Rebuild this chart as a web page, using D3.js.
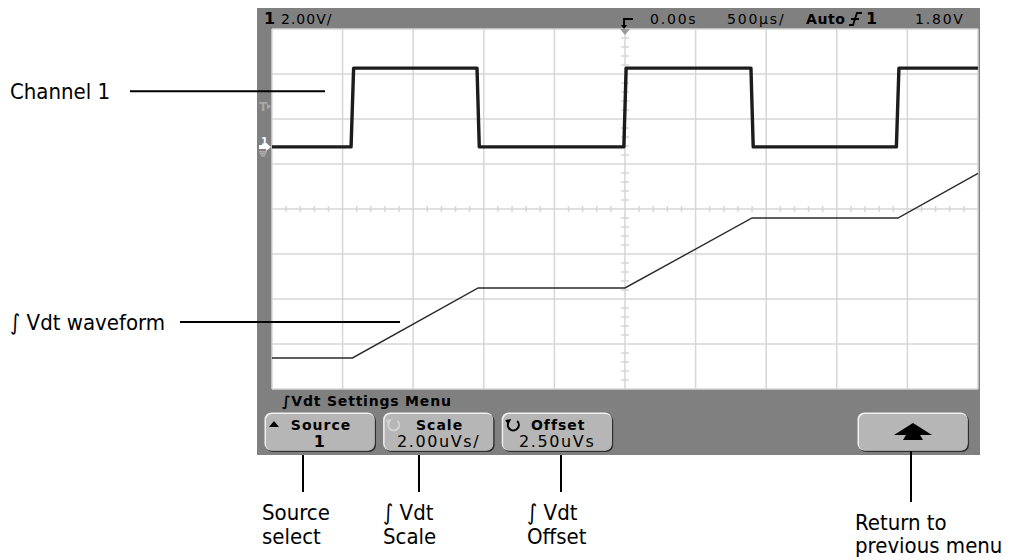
<!DOCTYPE html>
<html>
<head>
<meta charset="utf-8">
<script src="https://cdn.jsdelivr.net/npm/d3@7"></script>
<style>
  body { margin: 0; background: #fff; }
  .scope { font-family: "DejaVu Sans", sans-serif; }
  .note { font-family: "Liberation Sans Narrow", "DejaVu Sans Condensed", sans-serif; font-size: 22px; fill: #000; }
</style>
</head>
<body>
<div id="chart"></div>
<script>
// time axis (µs), 500 µs/div, centred on trigger
const timeDomain = [-2500, 2500];
const timeDivs = d3.range(-2500, 2501, 500);
const voltDivs = d3.range(-4, 5, 1);          // 8 vertical divisions around centre

// channel 1 (V), 2.00 V/div, ground reference 0 V
const ch1Center = -2.76;
const ch1Times = [-2500, -1940, -1922, -1048, -1032, -8, 8, 892, 908, 1922, 1940, 2500];
const ch1Volts = [0, 0, 3.5, 3.5, 0, 0, 3.5, 3.5, 0, 0, 3.5, 3.5];
const triggerLevel = 1.8;

// integral (uVs), 2.00 uVs/div, offset 2.50 uVs
const intScale = 2.0;
const intOffset = 2.5;
const intTimes = [-2500, -1930, -1040, 0, 900, 1933, 2500];
const intValues = [-4.12, -4.12, -1.01, -1.01, 2.10, 2.10, 4.08];

// status line
const statusLeft = ["1", "2.00V/"];
const statusRight = ["0.00s", "500µs/", "Auto", "1", "1.80V"];

// softkeys
const menuTitle = "∫Vdt Settings Menu";
const softkeyLabels = ["Source", "Scale", "Offset", "", "", ""];
const softkeyValues = ["1", "2.00uVs/", "2.50uVs", "", "", ""];

// callouts
const sideNotes = ["Channel 1", "∫ Vdt waveform"];
const bottomNotes = [["Source", "select"], ["∫ Vdt", "Scale"], ["∫ Vdt", "Offset"], ["Return to", "previous menu"]];

const W = 1022, H = 560;
const frame = { left: 257, top: 8, right: 980, bottom: 455 };
const grid = { left: 272, top: 29, right: 978, bottom: 389 };

const svg = d3.select("#chart").append("svg")
    .attr("width", W)
    .attr("height", H);

const x = d3.scaleLinear().domain(timeDomain).range([grid.left, grid.right]);
const yDiv = d3.scaleLinear().domain([-4, 4]).range([grid.bottom, grid.top]);
const yCh1 = d3.scaleLinear().domain([ch1Center - 8, ch1Center + 8]).range([grid.bottom, grid.top]);
const yInt = d3.scaleLinear().domain([intOffset - 4 * intScale, intOffset + 4 * intScale]).range([grid.bottom, grid.top]);

// scope frame
let scope = svg.append("g").attr("class", "scope");
scope.append("rect")
    .attr("x", frame.left).attr("y", frame.top)
    .attr("width", frame.right - frame.left).attr("height", frame.bottom - frame.top)
    .attr("fill", "#808080");
scope.append("rect")
    .attr("x", grid.left).attr("y", grid.top)
    .attr("width", grid.right - grid.left).attr("height", grid.bottom - grid.top)
    .attr("fill", "#fff");

// graticule
let g = scope.append("g").attr("class", "graticule")
    .attr("stroke", "#d6d6d6").attr("stroke-width", 1.5);
g.selectAll(".vline").data(timeDivs).enter().append("line")
    .attr("x1", d => x(d)).attr("x2", d => x(d))
    .attr("y1", grid.top).attr("y2", grid.bottom);
g.selectAll(".hline").data(voltDivs).enter().append("line")
    .attr("x1", grid.left).attr("x2", grid.right)
    .attr("y1", d => yDiv(d)).attr("y2", d => yDiv(d));

// minor ticks on the centre lines
let xMinor = d3.range(-2500, 2501, 100).filter(d => d % 500 !== 0);
g.selectAll(".xtick").data(xMinor).enter().append("line")
    .attr("x1", d => x(d)).attr("x2", d => x(d))
    .attr("y1", yDiv(0) - 3).attr("y2", yDiv(0) + 3);
let yMinor = d3.range(-4, 4.01, 0.2).filter(d => Math.abs(d - Math.round(d)) > 0.01);
g.selectAll(".ytick").data(yMinor).enter().append("line")
    .attr("x1", x(0) - 4).attr("x2", x(0) + 4)
    .attr("y1", d => yDiv(d)).attr("y2", d => yDiv(d));

// trigger position marker on top of graticule
scope.append("path")
    .attr("d", `M${x(0) - 5},${grid.top} L${x(0) + 5},${grid.top} L${x(0)},${grid.top + 6} Z`)
    .attr("fill", "#9a9a9a");

// waveforms
let line = d3.line();
scope.append("path")
    .datum(ch1Times.map((t, i) => [x(t), yCh1(ch1Volts[i])]))
    .attr("d", line)
    .attr("fill", "none")
    .attr("stroke", "#1c1c1c")
    .attr("stroke-width", 3.4)
    .attr("stroke-linejoin", "round");
scope.append("path")
    .datum(intTimes.map((t, i) => [x(t), yInt(intValues[i])]))
    .attr("d", line)
    .attr("fill", "none")
    .attr("stroke", "#2a2a2a")
    .attr("stroke-width", 1.4);

// left strip markers: trigger level and channel 1 ground
let yT = yCh1(triggerLevel), yG = yCh1(0);
scope.append("text")
    .attr("x", 259).attr("y", yT + 5)
    .attr("font-size", 12).attr("font-weight", "bold")
    .attr("fill", "#a8a8a8").text("T");
scope.append("path")
    .attr("d", `M267,${yT - 3} L271,${yT} L267,${yT + 3} Z`)
    .attr("fill", "#a8a8a8");
scope.append("text")
    .attr("x", 261).attr("y", yG - 2)
    .attr("font-size", 10).attr("font-weight", "bold")
    .attr("fill", "#fff").text("1");
scope.append("path")
    .attr("d", `M259,${yG - 2} L266,${yG - 2} L266,${yG - 4} L271,${yG} L266,${yG + 4} L266,${yG + 2} L259,${yG + 2} Z`)
    .attr("fill", "#fff");
scope.append("path")
    .attr("d", `M259,${yG + 5} h8 M260,${yG + 7} h6 M261,${yG + 9} h4`)
    .attr("stroke", "#c8c8c8").attr("stroke-width", 1);

// status line
let status = scope.append("g").attr("font-size", 14).attr("fill", "#000");
status.append("text").attr("x", 264).attr("y", 24)
    .attr("font-weight", "bold").attr("font-size", 16).text(statusLeft[0]);
status.append("text").attr("x", 281).attr("y", 24)
    .attr("letter-spacing", 1).text(statusLeft[1]);
// trigger time reference glyph
status.append("path")
    .attr("d", `M${x(0) - 1},28 L${x(0) - 1},19 L${x(0) + 8},19`)
    .attr("fill", "none").attr("stroke", "#000").attr("stroke-width", 2);
status.append("path")
    .attr("d", `M${x(0) - 4},25 L${x(0) + 2},25 L${x(0) - 1},29 Z`)
    .attr("fill", "#000");
let statusX = [650, 727, 806, 866, 915];
statusRight.forEach((s, i) => {
    status.append("text")
        .attr("x", statusX[i]).attr("y", 24)
        .attr("letter-spacing", i === 2 ? 0.6 : 1.8)
        .attr("font-weight", (i === 2 || i === 3) ? "bold" : "normal")
        .attr("font-size", i === 3 ? 16 : 14)
        .text(s);
});
// rising edge trigger glyph
status.append("path")
    .attr("d", "M849,25 L853,25 L857,13 L862,13 M851,19 L859,19")
    .attr("fill", "none").attr("stroke", "#000").attr("stroke-width", 1.8);

// softkey menu
scope.append("text")
    .attr("x", 282).attr("y", 406)
    .attr("font-size", 14).attr("font-weight", "bold")
    .attr("letter-spacing", 0.8)
    .text(menuTitle);

let keyX = d3.scaleLinear().domain([0, 5]).range([265, 858]);
let keyW = 110, keyTop = 413, keyH = 38;
let keys = scope.selectAll(".softkey").data(softkeyLabels).enter().append("g")
    .attr("class", "softkey")
    .attr("transform", (d, i) => `translate(${keyX(i)},${keyTop})`);
keys.filter((d, i) => i < 3 || i === 5).each(function (d, i) {
    let k = d3.select(this);
    k.append("rect")
        .attr("x", 1).attr("y", 1).attr("width", keyW).attr("height", keyH)
        .attr("rx", 7).attr("fill", "#2e2e2e");
    k.append("rect")
        .attr("x", -0.5).attr("y", -0.5).attr("width", keyW).attr("height", keyH)
        .attr("rx", 7).attr("fill", "#f0f0f0");
    k.append("rect")
        .attr("x", 1).attr("y", 1).attr("width", keyW - 1.5).attr("height", keyH - 1.5)
        .attr("rx", 6).attr("fill", "#b6b6b6");
});
keys.append("text")
    .attr("x", keyW / 2 + 1).attr("y", 17)
    .attr("text-anchor", "middle")
    .attr("font-size", 14).attr("font-weight", "bold")
    .attr("letter-spacing", 1)
    .text(d => d);
keys.append("text")
    .attr("x", keyW / 2).attr("y", 34)
    .attr("text-anchor", "middle")
    .attr("font-size", 16)
    .attr("font-weight", (d, i) => i === 0 ? "bold" : "normal")
    .attr("letter-spacing", 1.6)
    .text((d, i) => softkeyValues[i]);

// softkey icons
let k0 = keyX(0), k1 = keyX(1), k2 = keyX(2), k5 = keyX(5);
scope.append("path")
    .attr("d", `M${k0 + 4},${keyTop + 14} L${k0 + 9},${keyTop + 8} L${k0 + 14},${keyTop + 14} Z`)
    .attr("fill", "#000");
function circArrow(cx, cy, color) {
    scope.append("path")
        .attr("d", `M${cx + 4},${cy - 4} A5.5,5.5 0 1 1 ${cx - 5},${cy - 2}`)
        .attr("fill", "none").attr("stroke", color).attr("stroke-width", 2);
    scope.append("path")
        .attr("d", `M${cx - 8},${cy - 5} L${cx - 2},${cy - 6} L${cx - 5},${cy} Z`)
        .attr("fill", color);
}
circArrow(k1 + 10, keyTop + 12, "#d2d2d2");
circArrow(k2 + 11, keyTop + 12, "#000");
// return arrow
let ax = k5 + keyW / 2, ay = keyTop + 19;
scope.append("path")
    .attr("d", `M${ax - 19},${ay + 3} L${ax},${ay - 9} L${ax + 19},${ay + 3} L${ax + 7},${ay + 3} L${ax + 10},${ay + 8} L${ax - 10},${ay + 8} L${ax - 7},${ay + 3} Z`)
    .attr("fill", "#000");

// side callouts
let notes = svg.append("g");
let sideY = [yCh1(ch1Volts[2]) + 23, yInt(intValues[2]) + 34];
let sideLine = [[130, 325], [180, 400]];
sideNotes.forEach((s, i) => {
    notes.append("text").attr("class", "note")
        .attr("x", 10).attr("y", sideY[i] + 8).text(s);
    notes.append("line")
        .attr("x1", sideLine[i][0]).attr("x2", sideLine[i][1])
        .attr("y1", sideY[i]).attr("y2", sideY[i])
        .attr("stroke", "#000").attr("stroke-width", 2);
});

// bottom callouts
let calloutX = [303, 419, 561, 911];
let calloutText = [262, 383, 527, 855];
let calloutEnd = [492, 492, 492, 502];
let textY = [[520, 544], [520, 544], [520, 544], [530, 553]];
bottomNotes.forEach((pair, i) => {
    notes.append("line")
        .attr("x1", calloutX[i]).attr("x2", calloutX[i])
        .attr("y1", i === 3 ? keyTop + keyH : frame.bottom).attr("y2", calloutEnd[i])
        .attr("stroke", "#000").attr("stroke-width", 2);
    pair.forEach((s, j) => {
        notes.append("text").attr("class", "note")
            .attr("x", calloutText[i]).attr("y", textY[i][j]).text(s);
    });
});
</script>
</body>
</html>
